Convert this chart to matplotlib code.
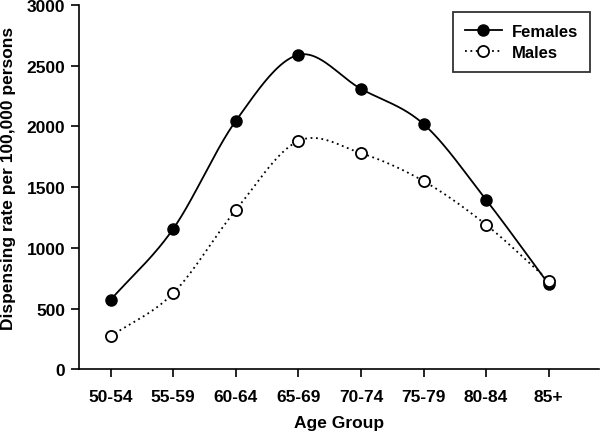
import numpy as np
import matplotlib
matplotlib.use("Agg")
import matplotlib.pyplot as plt

plt.rcParams['font.family'] = ['Liberation Sans', 'DejaVu Sans']
plt.rcParams['font.weight'] = 'bold'
plt.rcParams['axes.labelweight'] = 'bold'

age_groups = ['50-54', '55-59', '60-64', '65-69', '70-74', '75-79', '80-84', '85+']
females = [570, 1155, 2045, 2590, 2310, 2020, 1395, 700]
males = [270, 625, 1310, 1880, 1780, 1550, 1190, 730]


def smooth_curve(x, y, n=40):
    # Catmull-Rom style Hermite curve, only for drawing the smooth connecting line
    x = np.asarray(x, float)
    y = np.asarray(y, float)
    m = np.gradient(y, x)
    xs_all, ys_all = [], []
    for i in range(len(x) - 1):
        h = x[i + 1] - x[i]
        t = np.linspace(0, 1, n)
        h00 = 2 * t ** 3 - 3 * t ** 2 + 1
        h10 = t ** 3 - 2 * t ** 2 + t
        h01 = -2 * t ** 3 + 3 * t ** 2
        h11 = t ** 3 - t ** 2
        xs_all.append(x[i] + t * h)
        ys_all.append(h00 * y[i] + h10 * h * m[i] + h01 * y[i + 1] + h11 * h * m[i + 1])
    return np.concatenate(xs_all), np.concatenate(ys_all)


xpos = np.arange(len(age_groups))

fig = plt.figure(figsize=(6, 4.35), dpi=100)
ax = fig.add_axes([0.132, 0.149, 0.866, 0.837])

xf, yf = smooth_curve(xpos, females)
xm, ym = smooth_curve(xpos, males)
ax.plot(xf, yf, color='black', lw=1.3, ls='-')
ax.plot(xm, ym, color='black', lw=1.3, ls=(0, (1, 2)))
ax.plot(xpos, females, 'o', color='black', ms=8, zorder=3)
ax.plot(xpos, males, 'o', mfc='white', mec='black', mew=1.3, ms=8, zorder=3)

# legend proxies
fem_proxy, = ax.plot([], [], '-o', color='black', lw=1.3, ms=8)
mal_proxy, = ax.plot([], [], 'o', ls=(0, (1, 2)), color='black', mfc='white', mew=1.3, lw=1.3, ms=8)
leg = ax.legend([fem_proxy, mal_proxy], ['Females', 'Males'], loc='upper right',
                bbox_to_anchor=(1.0, 1.005),
                frameon=True, fancybox=False, edgecolor='black',
                prop={'size': 12, 'weight': 'bold'},
                handlelength=2.2, borderpad=0.75, labelspacing=0.35, handletextpad=0.6)
leg.get_frame().set_linewidth(1.3)

ax.set_xlim(-0.5, 7.8)
ax.set_ylim(0, 3000)
ax.set_xticks(xpos)
ax.set_xticklabels(age_groups, fontweight='bold')
ax.set_yticks(np.arange(0, 3001, 500))
ax.set_yticklabels([str(v) for v in range(0, 3001, 500)], fontweight='bold')
ax.spines['top'].set_visible(False)
ax.spines['right'].set_visible(False)
ax.spines['left'].set_linewidth(1.2)
ax.spines['bottom'].set_linewidth(1.2)
ax.tick_params(direction='out', length=6, width=1.2, labelsize=12.5)
ax.tick_params(axis='y', pad=4)
ax.tick_params(axis='x', pad=8)
ax.set_xlabel('Age Group', fontsize=12.5, fontweight='bold', labelpad=8)
ax.set_ylabel('Dispensing rate per 100,000 persons', fontsize=12.5, fontweight='bold')
ax.yaxis.set_label_coords(-0.122, 0.527)

fig.savefig('out.png', dpi=100)
